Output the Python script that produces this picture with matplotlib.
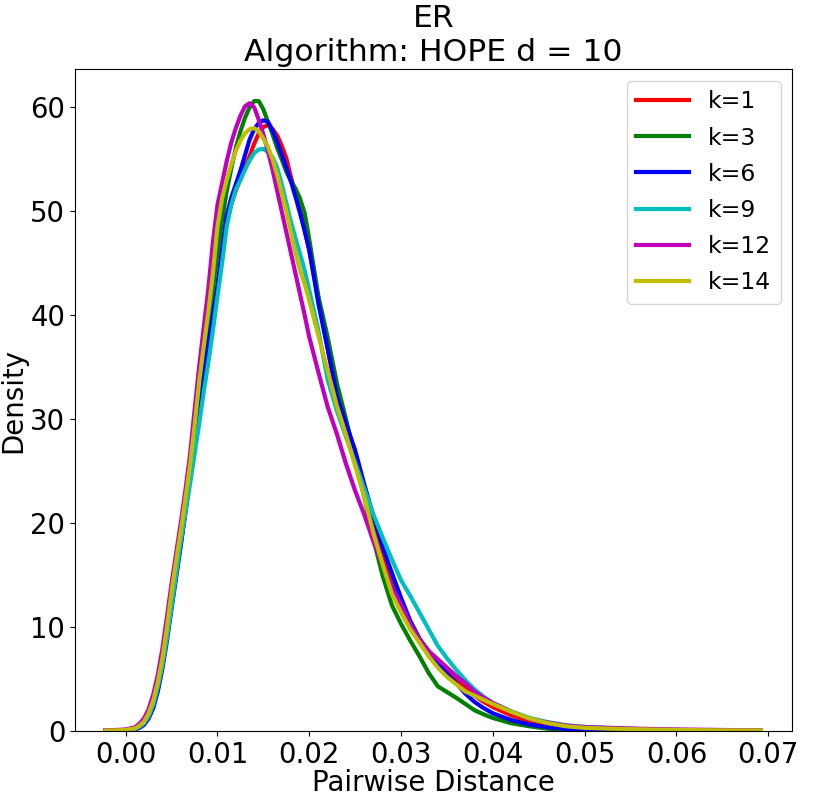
import matplotlib
matplotlib.use("Agg")
import matplotlib.pyplot as plt

# Common x grid (pairwise distance) at which densities were read
x_grid = [-0.0022, -0.001, 0.0, 0.001, 0.0015, 0.002, 0.0025, 0.003, 0.0035, 0.004,
          0.0045, 0.005, 0.0055, 0.006, 0.0065, 0.007, 0.0075,
          0.008, 0.0085, 0.009, 0.0095, 0.010, 0.0105, 0.011, 0.0115, 0.012, 0.0125,
          0.013, 0.0135, 0.014, 0.0145, 0.015, 0.0155, 0.016, 0.0165, 0.017, 0.0175,
          0.018, 0.0185, 0.019, 0.0195, 0.020, 0.021, 0.022, 0.023, 0.024, 0.025,
          0.026, 0.027, 0.028, 0.029, 0.030, 0.031, 0.032, 0.033, 0.034, 0.035,
          0.036, 0.037, 0.038, 0.039, 0.040, 0.042, 0.044, 0.046, 0.048, 0.050,
          0.053, 0.056, 0.060, 0.065, 0.0692]

dens_k1 = [0.03, 0.04, 0.06, 0.17, 0.35, 0.7, 1.4, 2.4, 4.1, 6.3,
           9.1, 12.1, 15.1, 18.0, 21.1, 24.3, 27.7,
           31.3, 34.3, 37.1, 39.9, 42.7, 46.0, 49.0, 50.7, 52.0, 53.1,
           54.2, 55.3, 56.5, 57.5, 58.1, 58.3, 57.9, 57.3, 56.3, 55.1,
           53.3, 51.7, 50.0, 48.2, 46.2, 41.6, 36.8, 32.4, 29.0, 25.8,
           22.6, 19.5, 16.8, 14.4, 12.5, 10.4, 8.8, 7.7, 6.7, 5.8,
           5.0, 4.2, 3.4, 2.8, 2.3, 1.5, 0.95, 0.6, 0.38, 0.25,
           0.15, 0.1, 0.06, 0.04, 0.03]

dens_k3 = [0.04, 0.05, 0.08, 0.22, 0.45, 0.8, 1.5, 2.7, 4.4, 6.7,
           9.6, 12.8, 15.8, 18.7, 21.8, 25.0, 28.6,
           32.3, 35.8, 39.0, 42.5, 46.0, 49.2, 51.9, 54.1, 56.1, 57.7,
           59.0, 60.0, 60.6, 60.6, 59.8, 58.6, 57.4, 56.1, 55.0, 53.8,
           52.9, 52.2, 51.2, 49.8, 47.3, 41.8, 37.9, 33.5, 30.0, 26.3,
           22.5, 18.4, 14.9, 12.1, 10.3, 8.7, 7.2, 5.6, 4.3, 3.75,
           3.2, 2.6, 2.0, 1.6, 1.25, 0.75, 0.45, 0.22, 0.1, 0.06,
           0.04, 0.03, 0.02, 0.02, 0.02]

dens_k6 = [0.03, 0.04, 0.05, 0.15, 0.3, 0.6, 1.2, 2.2, 3.8, 6.0,
           8.7, 11.8, 14.8, 17.8, 21.0, 24.2, 27.8,
           31.5, 34.4, 37.2, 40.0, 42.8, 46.4, 49.6, 51.3, 52.6, 53.9,
           55.4, 56.9, 57.9, 58.5, 58.75, 58.6, 57.8, 56.7, 55.5, 54.2,
           52.9, 51.4, 49.8, 48.1, 46.3, 41.1, 36.8, 32.3, 29.6, 27.0,
           23.7, 20.6, 17.7, 15.2, 12.8, 10.6, 8.9, 7.6, 6.5, 5.5,
           4.6, 3.6, 2.8, 2.2, 1.7, 1.05, 0.62, 0.35, 0.2, 0.12,
           0.07, 0.05, 0.03, 0.02, 0.02]

dens_k9 = [0.04, 0.05, 0.07, 0.2, 0.4, 0.75, 1.4, 2.5, 4.2, 6.3,
           9.0, 12.0, 15.1, 18.2, 21.0, 23.7, 26.6,
           29.5, 32.6, 35.4, 38.5, 41.8, 45.0, 48.5, 50.6, 52.1, 53.0,
           54.0, 54.9, 55.6, 55.95, 56.0, 55.7, 55.2, 54.2, 52.6, 50.8,
           49.0, 47.4, 45.9, 44.3, 42.4, 38.5, 33.8, 30.8, 28.3, 25.8,
           23.3, 20.8, 18.6, 16.5, 14.5, 13.0, 11.4, 9.8, 8.2, 7.0,
           5.9, 4.9, 4.0, 3.3, 2.7, 1.9, 1.25, 0.85, 0.55, 0.4,
           0.26, 0.18, 0.1, 0.06, 0.04]

dens_k12 = [0.08, 0.1, 0.15, 0.35, 0.7, 1.2, 2.1, 3.5, 5.4, 7.9,
            11.0, 14.2, 17.1, 20.0, 23.1, 26.5, 30.8,
            35.0, 38.8, 42.5, 47.0, 50.6, 52.7, 54.8, 56.6, 58.0, 59.2,
            60.1, 60.4, 60.0, 58.8, 57.4, 55.8, 54.0, 52.0, 50.0, 48.0,
            46.0, 44.0, 42.0, 40.0, 37.9, 34.5, 31.2, 28.6, 25.7, 23.1,
            20.8, 18.2, 16.0, 13.8, 12.2, 10.3, 8.8, 7.7, 6.9, 6.1,
            5.3, 4.6, 3.8, 3.2, 2.7, 1.85, 1.15, 0.8, 0.52, 0.38,
            0.3, 0.22, 0.15, 0.1, 0.05]

dens_k14 = [0.05, 0.06, 0.1, 0.25, 0.5, 0.9, 1.7, 2.9, 4.7, 7.0,
            10.0, 13.4, 16.4, 19.2, 22.3, 25.5, 29.3,
            33.5, 37.0, 40.3, 44.0, 48.5, 51.2, 53.0, 54.5, 55.8, 56.8,
            57.5, 57.9, 58.0, 57.7, 57.0, 56.2, 55.0, 53.5, 51.8, 50.0,
            48.0, 46.0, 44.3, 43.0, 41.4, 38.0, 34.7, 31.3, 28.5, 25.5,
            22.5, 19.0, 16.0, 13.2, 11.4, 9.8, 8.5, 7.2, 6.1, 5.2,
            4.5, 3.8, 3.4, 3.0, 2.6, 1.85, 1.2, 0.75, 0.45, 0.3,
            0.22, 0.16, 0.1, 0.06, 0.05]

labels = ["k=1", "k=3", "k=6", "k=9", "k=12", "k=14"]
colors = ["r", "g", "b", "c", "m", "y"]
series = [dens_k1, dens_k3, dens_k6, dens_k9, dens_k12, dens_k14]

fig = plt.figure(figsize=(8.14, 7.96), dpi=100)
ax = fig.add_axes([75 / 814, 1 - 731 / 796, (792.3 - 75) / 814, (731 - 69.3) / 796])

for ys, lab, col in zip(series, labels, colors):
    ax.plot(x_grid, ys, color=col, lw=3.0, label=lab)

ax.set_xlim(-0.00552, 0.07262)
ax.set_ylim(0, 63.66)
ax.set_xticks([0.00, 0.01, 0.02, 0.03, 0.04, 0.05, 0.06, 0.07])
ax.set_xticklabels(["0.00", "0.01", "0.02", "0.03", "0.04", "0.05", "0.06", "0.07"])
ax.set_yticks([0, 10, 20, 30, 40, 50, 60])
ax.tick_params(labelsize=19.8)
ax.set_xlabel("Pairwise Distance", fontsize=19.9, labelpad=0)
ax.set_ylabel("Density", fontsize=19.9, labelpad=2)
ax.set_title("ER\nAlgorithm: HOPE d = 10", fontsize=22.6)
ax.legend(loc="upper right", fontsize=16.9, handlelength=2.25, labelspacing=0.56)

fig.savefig("out.png", dpi=100)
